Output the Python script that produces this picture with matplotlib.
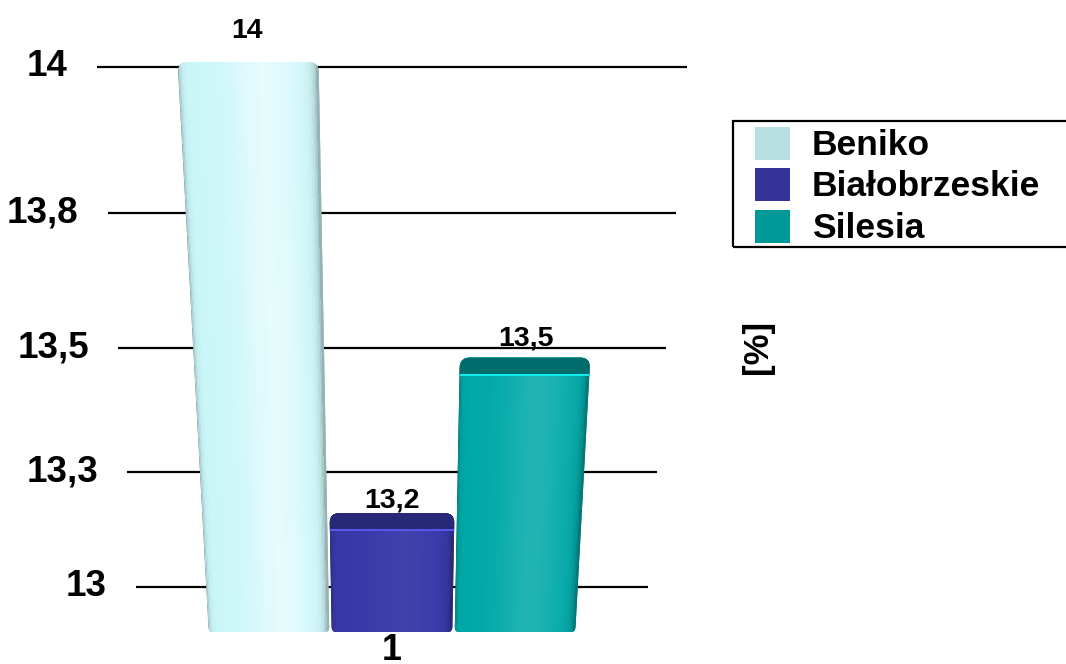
import numpy as np
import matplotlib
matplotlib.use("Agg")
import matplotlib.pyplot as plt
from matplotlib.path import Path
from matplotlib.patches import PathPatch, Rectangle, Polygon
from matplotlib.collections import PolyCollection
from matplotlib.transforms import IdentityTransform
from matplotlib.colors import to_rgb

plt.rcParams['font.family'] = ['Liberation Sans', 'DejaVu Sans']
plt.rcParams['font.weight'] = 'bold'

# ---- data -------------------------------------------------------------
category = '1'
series_names = ['Beniko', 'Białobrzeskie', 'Silesia']
series_values = [14.0, 13.2, 13.5]
value_labels = ['14', '13,2', '13,5']
series_colors = ['#b8e0e2', '#333399', '#009999']
y_ticks = [13.0, 13.25, 13.5, 13.75, 14.0]
y_tick_labels = ['13', '13,3', '13,5', '13,8', '14']
unit_label = '[%]'

# ---- figure -----------------------------------------------------------
W, H, DPI = 1066, 664, 100
fig = plt.figure(figsize=(W / DPI, H / DPI), dpi=DPI)
fig.patch.set_facecolor('white')

# value axis seen in perspective: equal steps shrink towards the floor
BASE, BEND = 13.0, 0.15


def fwd(v):
    t = np.asarray(v, dtype=float) - BASE
    with np.errstate(divide='ignore', invalid='ignore'):
        return t / (1.0 - BEND * t)


def inv(g):
    g = np.asarray(g, dtype=float)
    with np.errstate(divide='ignore', invalid='ignore'):
        return BASE + g / (1.0 + BEND * g)


CX, UNIT = 392.0, 123.0          # group centre (px) and bar slot width at the floor (px)
FLOOR_PX, SPAN_PX, WIDEN = 632.0, 570.0, 0.17
V_FLOOR = 12.95


def plane(v_lo, px_lo, v_hi, px_hi, z):
    """Axes whose value range v_lo..v_hi sits between two pixel rows (from top)."""
    ax = fig.add_axes([0.0, (H - px_lo) / H, 1.0, (px_lo - px_hi) / H], zorder=z)
    ax.set_yscale('function', functions=(fwd, inv))
    ax.set_ylim(v_lo, v_hi)
    ax.set_xlim(-CX / UNIT, (W - CX) / UNIT)
    ax.axis('off')
    return ax


back = plane(13.0, 587, 14.0, 67, 0)        # wall carrying the grid
front = plane(V_FLOOR, 632, 14.0, 62, 1)    # front faces of the bars
labels = plane(13.0, 600, 14.0, 31, 2)      # value labels above the bars


def widen(y_disp):
    p = H - y_disp
    return 1.0 + WIDEN * (FLOOR_PX - p) / SPAN_PX


def widen_at(ax, v):
    return widen(ax.transData.transform((0.0, v))[1])


# ---- grid and value-axis labels --------------------------------------
GRID_HALF = 2.055
for v, lab in zip(y_ticks, y_tick_labels):
    hw = GRID_HALF * widen_at(back, v)
    back.plot([-hw, hw], [v, v], color='black', lw=1.6, solid_capstyle='butt',
              clip_on=False)
    back.annotate(lab, xy=(-hw, v), xytext=(-29 * 72 / DPI, 0),
                  textcoords='offset points', ha='right', va='center',
                  fontsize=26.5, fontweight='bold', annotation_clip=False)


# ---- bars -------------------------------------------------------------
def rounded_path(pts, radii):
    verts, codes = [], []
    n = len(pts)
    for k in range(n):
        p, a, c = pts[k], pts[k - 1], pts[(k + 1) % n]
        da = (a - p) / np.linalg.norm(a - p)
        dc = (c - p) / np.linalg.norm(c - p)
        verts += [p + radii[k] * da, p, p + radii[k] * dc]
        codes += [Path.MOVETO if k == 0 else Path.LINETO, Path.CURVE3, Path.CURVE3]
    verts.append(verts[0])
    codes.append(Path.CLOSEPOLY)
    return Path(np.array(verts), codes)


def shade(rgb, u):
    rgb = np.asarray(rgb)
    lum = 0.3 * rgb[0] + 0.59 * rgb[1] + 0.11 * rgb[2]
    dark = 0.38 * np.exp(-u / 0.018) + 0.35 * np.exp(-(1 - u) / 0.03)
    light = 0.6 * lum ** 2 * np.exp(-((u - 0.62) / 0.25) ** 2)
    c = rgb[None, :] * (1 - dark[:, None])
    return np.clip(c + (1 - c) * light[:, None], 0, 1)


cap_shades = [1.0, 0.72, 0.64]
rim_strength = [0.0, 1.0, 1.0]
CAP_PX, SLOT, N_STRIPS = 17.0, 0.49, 90
cx_disp = front.transData.transform((0.0, V_FLOOR))[0]
n = len(series_values)

for i, (val, col) in enumerate(zip(series_values, series_colors)):
    xc = i - (n - 1) / 2
    face = np.clip(np.array(to_rgb(col)) * 1.1, 0, 1)
    raw = front.transData.transform([(xc - SLOT, V_FLOOR), (xc + SLOT, V_FLOOR),
                                     (xc + SLOT, val), (xc - SLOT, val)])
    pts = raw.copy()
    pts[:, 0] = cx_disp + (raw[:, 0] - cx_disp) * widen(raw[:, 1])
    bl, br, tr, tl = pts
    outline = PathPatch(rounded_path(pts, [5, 5, 10, 10]),
                        transform=IdentityTransform(), facecolor='none',
                        edgecolor='none')

    u = np.linspace(0, 1, N_STRIPS + 1)
    quads = []
    for u0, u1 in zip(u[:-1], u[1:]):
        quads.append([bl + (br - bl) * u0, bl + (br - bl) * u1,
                      tl + (tr - tl) * u1, tl + (tr - tl) * u0])
    cols = shade(face, (u[:-1] + u[1:]) / 2)
    body = PolyCollection(quads, facecolors=cols, edgecolors=cols, linewidths=0.8,
                          antialiaseds=False, transform=IdentityTransform())
    body.set_clip_path(outline)
    front.add_artist(body)

    # top face band and its bright front rim
    def edge_x(y, a, b):
        return a[0] + (b[0] - a[0]) * (y - a[1]) / (b[1] - a[1])

    y_top, y_cap = tl[1] + 2, tl[1] - CAP_PX
    if cap_shades[i] < 1.0:
        cap = Polygon([(edge_x(y_cap, bl, tl) - 2, y_cap), (edge_x(y_cap, br, tr) + 2, y_cap),
                       (edge_x(y_top, br, tr) + 2, y_top), (edge_x(y_top, bl, tl) - 2, y_top)],
                      closed=True, transform=IdentityTransform(),
                      facecolor=face * cap_shades[i], edgecolor='none')
        cap.set_clip_path(outline)
        front.add_artist(cap)
    if rim_strength[i] > 0:
        rim_col = np.clip(face * 1.35 + 0.05, 0, 1)
        rim = front.plot([edge_x(y_cap, bl, tl), edge_x(y_cap, br, tr)], [y_cap, y_cap],
                         color=rim_col, lw=1.4, transform=IdentityTransform())[0]
        rim.set_clip_path(outline)

    # value label
    s = widen_at(labels, val)
    labels.text(xc * s, val, value_labels[i], ha='center', va='center',
                fontsize=20.5, fontweight='bold', clip_on=False)

front.annotate(category, xy=(0.0, V_FLOOR), xytext=(0, -1), textcoords='offset points',
               ha='center', va='top', fontsize=26, fontweight='bold',
               annotation_clip=False)


# ---- legend -----------------------------------------------------------
def fx(px):
    return px / W


def fy(py):
    return 1 - py / H


fig.add_artist(Rectangle((fx(733), fy(247)), fx(1072) - fx(733), fy(121) - fy(247),
                         transform=fig.transFigure, fill=False, edgecolor='black',
                         lw=1.6))
ROW0, ROW_STEP = 143.0, 41.5
for k, (name, col) in enumerate(zip(series_names, series_colors)):
    yc = ROW0 + k * ROW_STEP
    fig.add_artist(Rectangle((fx(755), fy(yc + 16.5)), fx(790) - fx(755),
                             fy(yc - 16.5) - fy(yc + 16.5),
                             transform=fig.transFigure, facecolor=col,
                             edgecolor='none'))
    fig.text(fx(812), fy(yc + 12), name, ha='left', va='baseline', fontsize=25.5,
             fontweight='bold')

fig.text(fx(757), fy(347), unit_label, rotation=90, ha='center', va='center',
         fontsize=25, fontweight='bold')

fig.savefig('out.png', dpi=DPI, facecolor='white')
